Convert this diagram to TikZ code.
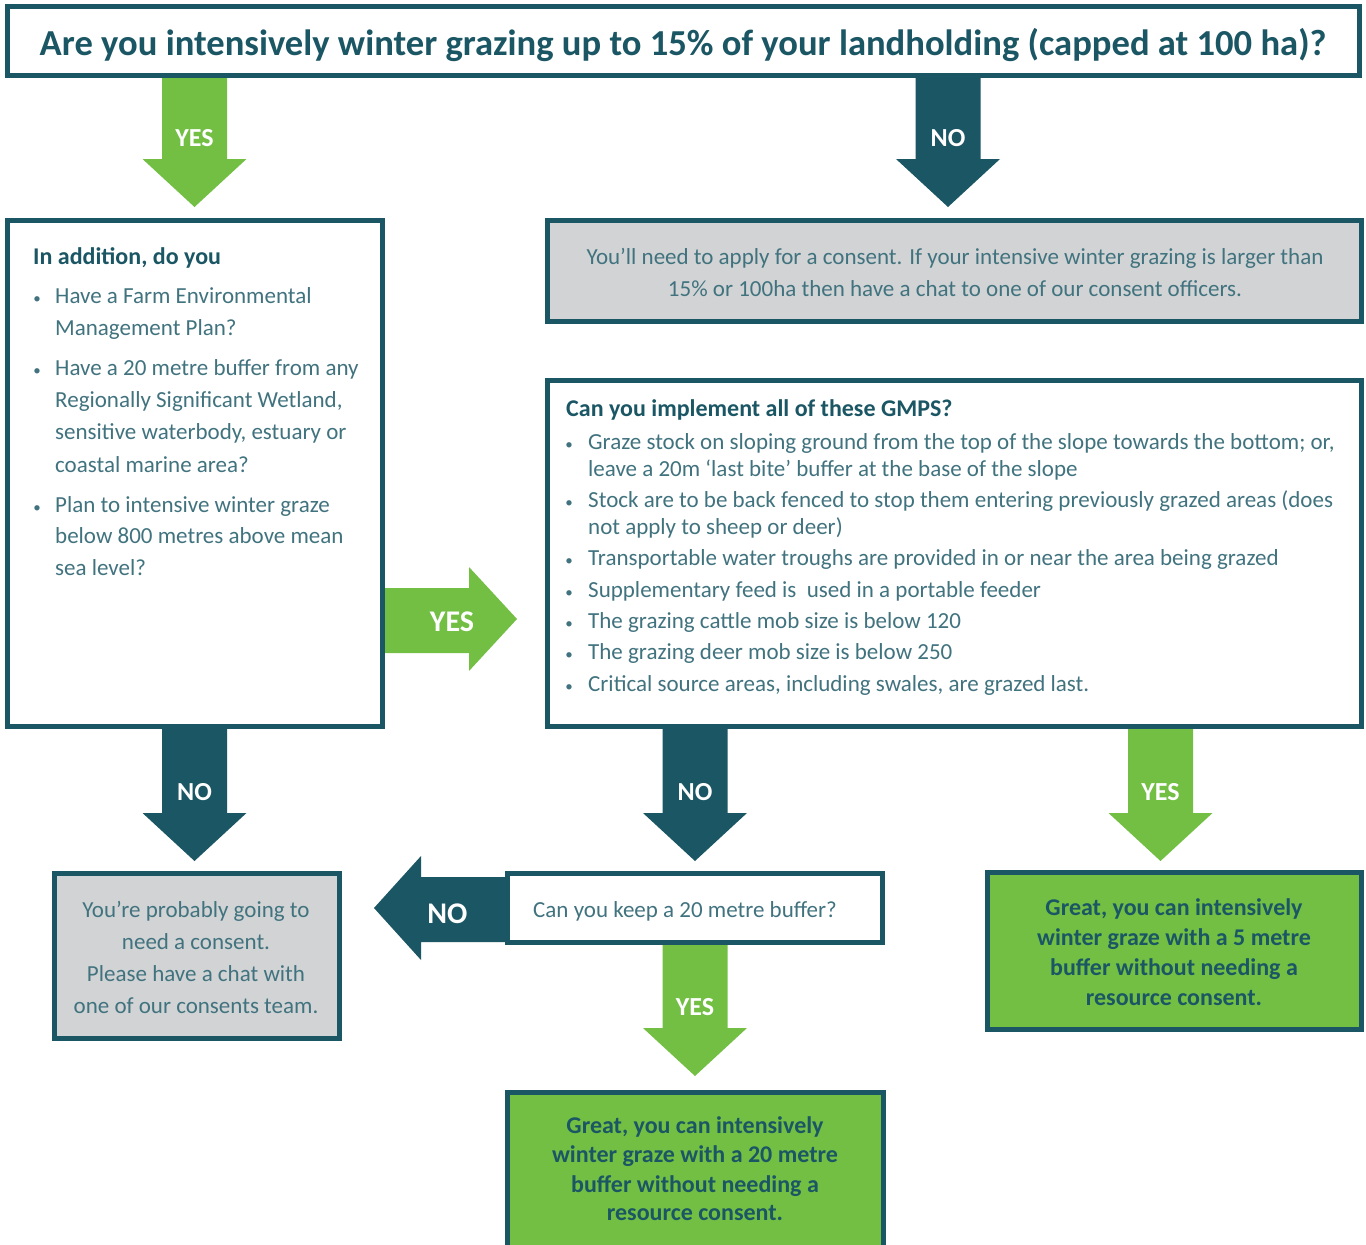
\documentclass[tikz,border=0pt]{standalone}
\usepackage{fontspec}
\setmainfont{Carlito}
\definecolor{dteal}{HTML}{1B5664}
\definecolor{lgreen}{HTML}{72BF44}
\definecolor{lgray}{HTML}{D1D3D4}
\definecolor{bodyc}{HTML}{41737F}
\newcommand\dnarrow[5]{%
  \fill[#5] ({#1-32.5},#2) -- ({#1+32.5},#2) -- ({#1+32.5},#3) -- ({#1+52},#3)
    -- (#1,#4) -- ({#1-52},#3) -- ({#1-32.5},#3) -- cycle;}
\begin{document}
\begin{tikzpicture}[x=1pt,y=-1pt,
  box/.style={draw=dteal, line width=5pt, fill=white, inner sep=0pt, outer sep=0pt},
  graybox/.style={box, fill=lgray},
  greenbox/.style={box, fill=lgreen},
  title/.style={font=\fontsize{36.6}{40}\selectfont\bfseries, text=dteal, anchor=base, inner sep=0pt},
  head/.style={font=\fontsize{24}{28}\selectfont\bfseries, text=dteal, anchor=base west, inner sep=0pt},
  btxt/.style={font=\fontsize{23}{28}\selectfont, text=bodyc, anchor=base west, inner sep=0pt},
  ctxt/.style={btxt, anchor=base},
  gtxt/.style={font=\fontsize{24}{28}\selectfont\bfseries, text=dteal, anchor=base, inner sep=0pt},
  bul/.style={font=\fontsize{15}{18}\selectfont, text=bodyc, anchor=base, inner sep=0pt},
  lab/.style={font=\fontsize{26}{30}\selectfont\bfseries, text=white, anchor=base, inner sep=0pt},
  biglab/.style={font=\fontsize{30}{34}\selectfont\bfseries, text=white, anchor=base, inner sep=0pt}
]
\useasboundingbox (0,0) rectangle (1366,1245);
\fill[white] (0,0) rectangle (1366,1245);

% ---- block arrows ----
\dnarrow{194.5}{76}{159}{207}{lgreen}
\dnarrow{948}{76}{159}{207}{dteal}
\dnarrow{194.5}{727}{813}{861}{dteal}
\dnarrow{695}{727}{813}{861}{dteal}
\dnarrow{1160.5}{727}{813}{861}{lgreen}
\dnarrow{695}{944}{1028}{1076}{lgreen}
\fill[lgreen] (383,588) -- (469,588) -- (469,567) -- (517,619) -- (469,671) -- (469,653) -- (383,653) -- cycle;
\fill[dteal] (507,877) -- (421,877) -- (421,856) -- (374,908) -- (421,960) -- (421,942) -- (507,942) -- cycle;

% ---- boxes ----
\node[box, minimum width=1352pt, minimum height=69pt] (q) at (683.5,41) {};
\node[box, minimum width=375pt, minimum height=506pt] (L) at (195,473.5) {};
\node[graybox, minimum width=814pt, minimum height=101pt] (G1) at (954.5,271) {};
\node[box, minimum width=814pt, minimum height=346pt] (M) at (954.5,553.5) {};
\node[graybox, minimum width=285pt, minimum height=165pt] (G2) at (197,956) {};
\node[box, minimum width=375pt, minimum height=69pt] (K) at (695,908) {};
\node[greenbox, minimum width=374pt, minimum height=157pt] (R) at (1174.5,951) {};
\begin{scope}
\clip (0,0) rectangle (1366,1245);
\node[greenbox, minimum width=376pt, minimum height=190pt] (B) at (695.5,1187) {};
\end{scope}

% ---- arrow labels ----
\node[lab] (l1) at (194.5,146) {YES};
\node[lab] (l2) at (948,146) {NO};
\node[lab] (l3) at (194.5,800) {NO};
\node[lab] (l4) at (695,800) {NO};
\node[lab] (l5) at (1160.5,800) {YES};
\node[lab] (l6) at (695,1015) {YES};
\node[biglab] (l7) at (452,631) {YES};
\node[biglab] (l8) at (447.5,923) {NO};

% ---- title ----
\node[title] (qt) at (683,55) {Are you intensively winter grazing up to 15\% of your landholding (capped at 100 ha)?};

% ---- left box ----
\node[head] (Lh) at (33,264) {In addition, do you};
\node[bul] (Lb1) at (37,303) {\textbullet};
\node[bul] (Lb2) at (37,375) {\textbullet};
\node[bul] (Lb3) at (37,512) {\textbullet};
\node[btxt] (L1) at (55,303) {Have a Farm Environmental};
\node[btxt] (L2) at (55,335) {Management Plan?};
\node[btxt] (L3) at (55,375) {Have a 20 metre buffer from any};
\node[btxt] (L4) at (55,407) {Regionally Significant Wetland,};
\node[btxt] (L5) at (55,439) {sensitive waterbody, estuary or};
\node[btxt] (L6) at (55,472) {coastal marine area?};
\node[btxt] (L7) at (55,512) {Plan to intensive winter graze};
\node[btxt] (L8) at (55,543) {below 800 metres above mean};
\node[btxt] (L9) at (55,575) {sea level?};

% ---- top gray box ----
\node[ctxt] (G1a) at (955,264) {You’ll need to apply for a consent. If your intensive winter grazing is larger than};
\node[ctxt] (G1b) at (955,296) {15\% or 100ha then have a chat to one of our consent officers.};

% ---- GMPS box ----
\node[head] (Mh) at (566,416) {Can you implement all of these GMPS?};
\foreach \yy/\nm in {449/a,507/b,565/c,597/d,628/e,659/f,691/g}
  \node[bul] (Mb\nm) at (569,\yy) {\textbullet};
\node[btxt] (M1) at (588,449) {Graze stock on sloping ground from the top of the slope towards the bottom; or,};
\node[btxt] (M2) at (588,476) {leave a 20m ‘last bite’ buffer at the base of the slope};
\node[btxt] (M3) at (588,507) {Stock are to be back fenced to stop them entering previously grazed areas (does};
\node[btxt] (M4) at (588,534) {not apply to sheep or deer)};
\node[btxt] (M5) at (588,565) {Transportable water troughs are provided in or near the area being grazed};
\node[btxt] (M6) at (588,597) {Supplementary feed is\ \ used in a portable feeder};
\node[btxt] (M7) at (588,628) {The grazing cattle mob size is below 120};
\node[btxt] (M8) at (588,659) {The grazing deer mob size is below 250};
\node[btxt] (M9) at (588,691) {Critical source areas, including swales, are grazed last.};

% ---- bottom-left gray box ----
\node[ctxt] (G2a) at (196,917) {You’re probably going to};
\node[ctxt] (G2b) at (196,949) {need a consent.};
\node[ctxt] (G2c) at (196,981) {Please have a chat with};
\node[ctxt] (G2d) at (196,1013) {one of our consents team.};

% ---- keep box ----
\node[btxt] (Kt) at (533,917) {Can you keep a 20 metre buffer?};

% ---- green right ----
\node[gtxt] (R1) at (1174,915) {Great, you can intensively};
\node[gtxt] (R2) at (1174,945) {winter graze with a 5 metre};
\node[gtxt] (R3) at (1174,975) {buffer without needing a};
\node[gtxt] (R4) at (1174,1005) {resource consent.};

% ---- green bottom ----
\node[gtxt] (B1) at (695,1133) {Great, you can intensively};
\node[gtxt] (B2) at (695,1162) {winter graze with a 20 metre};
\node[gtxt] (B3) at (695,1192) {buffer without needing a};
\node[gtxt] (B4) at (695,1220) {resource consent.};
\end{tikzpicture}
\end{document}
